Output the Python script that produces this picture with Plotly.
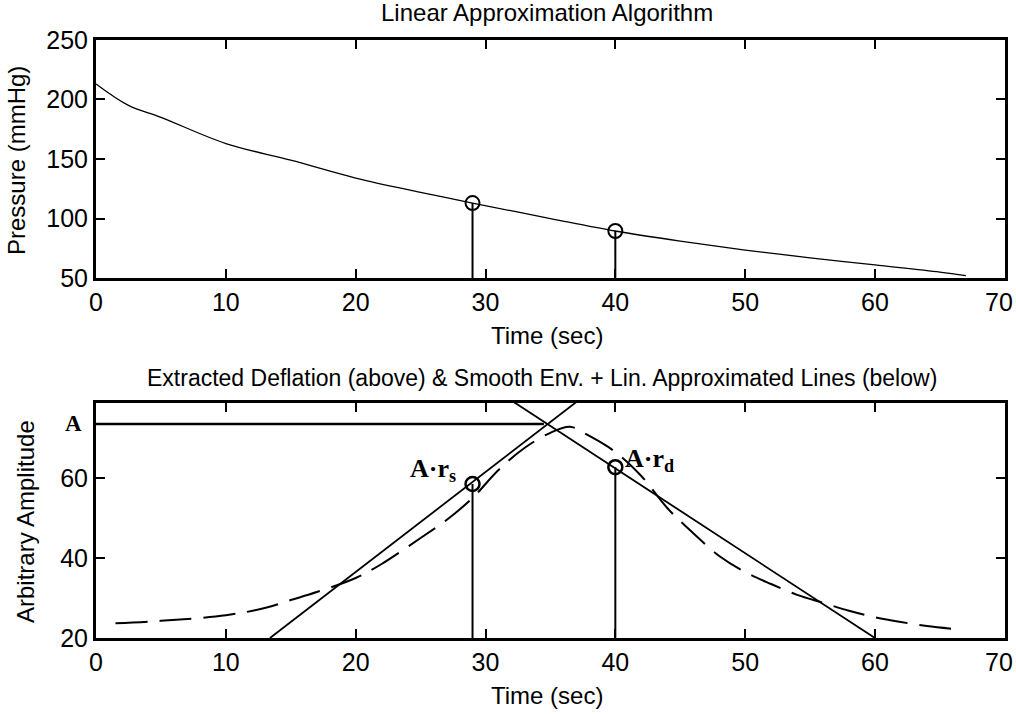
import plotly.graph_objects as go

# ---- data ----
time_p = [0, 2.5, 5, 10, 15, 20, 25, 29, 35, 40, 45, 50, 55, 60, 65, 67]
pressure = [213, 195, 185, 163, 149, 134, 122, 113, 100, 89.5, 81, 73.5, 67, 61, 55, 52]

t_marks = [29, 40]
p_marks = [113, 89.5]

time_env = [1.5, 5, 10, 13, 15, 17, 20, 22, 25, 27, 29, 31, 33, 35, 36.5, 38, 40, 42, 44, 46, 48, 50, 52, 54, 56, 58, 60, 62, 64, 66]
env = [23.7, 24.3, 25.7, 27.5, 29.5, 31.5, 35, 38.5, 45, 49.5, 55, 62, 67.5, 71.3, 72.8, 70.5, 66.5, 60.5, 52.5, 46.2, 40.5, 36.5, 33.5, 30.8, 28.8, 26.8, 25.2, 24, 23, 22.3]

rise_t = [13.4, 37.4]
rise_y = [20, 80]
fall_t = [31.7, 60]
fall_y = [80, 20]

A_val = 73.5
A_line_t = [0, 34.5]
amp_marks = [58.5, 62.7]

x_ticks = [0, 10, 20, 30, 40, 50, 60, 70]
x_ticktext = ["0", "10", "20", "30", "40", "50", "60", ""]   # "70" drawn as annotation so it stays inside the page

FONT = "Liberation Sans, Arial, sans-serif"
SERIF = "Liberation Serif, Times New Roman, serif"
BLACK = "black"

fig = go.Figure()

# top panel
fig.add_trace(go.Scatter(x=time_p, y=pressure, mode="lines", line=dict(color=BLACK, width=1.3, shape="spline"),
                         xaxis="x", yaxis="y", showlegend=False))
for t, p in zip(t_marks, p_marks):
    fig.add_trace(go.Scatter(x=[t, t], y=[50, p], mode="lines", line=dict(color=BLACK, width=2),
                             xaxis="x", yaxis="y", showlegend=False))
fig.add_trace(go.Scatter(x=t_marks, y=p_marks, mode="markers",
                         marker=dict(symbol="circle-open", size=14, color=BLACK, line=dict(width=2)),
                         xaxis="x", yaxis="y", showlegend=False))

# bottom panel
fig.add_trace(go.Scatter(x=time_env, y=env, mode="lines", line=dict(color=BLACK, width=2, dash="32px,12px", shape="spline"),
                         xaxis="x2", yaxis="y2", showlegend=False))
fig.add_trace(go.Scatter(x=rise_t, y=rise_y, mode="lines", line=dict(color=BLACK, width=1.8),
                         xaxis="x2", yaxis="y2", showlegend=False))
fig.add_trace(go.Scatter(x=fall_t, y=fall_y, mode="lines", line=dict(color=BLACK, width=1.8),
                         xaxis="x2", yaxis="y2", showlegend=False))
fig.add_trace(go.Scatter(x=A_line_t, y=[A_val, A_val], mode="lines", line=dict(color=BLACK, width=2.5),
                         xaxis="x2", yaxis="y2", showlegend=False))
for t, a in zip(t_marks, amp_marks):
    fig.add_trace(go.Scatter(x=[t, t], y=[20, a], mode="lines", line=dict(color=BLACK, width=2),
                             xaxis="x2", yaxis="y2", showlegend=False))
fig.add_trace(go.Scatter(x=t_marks, y=amp_marks, mode="markers",
                         marker=dict(symbol="circle-open", size=14, color=BLACK, line=dict(width=2.5)),
                         xaxis="x2", yaxis="y2", showlegend=False))

axis_common = dict(showline=True, linecolor=BLACK, linewidth=3, mirror="ticks", ticks="inside",
                   ticklen=9, tickwidth=2, tickcolor=BLACK, showgrid=False, zeroline=False,
                   automargin=False,
                   tickfont=dict(family=FONT, size=25, color=BLACK))

fig.update_layout(
    template="none",
    width=1016, height=714,
    margin=dict(l=0, r=0, t=0, b=0),
    paper_bgcolor="white", plot_bgcolor="white",
    xaxis=dict(domain=[0.0945, 0.989], range=[0, 70], tickvals=x_ticks, ticktext=x_ticktext,
               anchor="y", **axis_common),
    yaxis=dict(domain=[0.6106, 0.944], range=[50, 250], tickvals=[50, 100, 150, 200, 250],
               anchor="x", **axis_common),
    xaxis2=dict(domain=[0.0945, 0.989], range=[0, 70], tickvals=x_ticks, ticktext=x_ticktext,
                anchor="y2", **axis_common),
    yaxis2=dict(domain=[0.1064, 0.4356], range=[20, 78.75], tickvals=[20, 40, 60],
                anchor="x2", **axis_common),
)

H = 714.0
W = 1016.0


def txt(x, y, s, size=24, family=FONT, angle=0, xanchor="center"):
    fig.add_annotation(x=x, y=y, xref="paper", yref="paper", text=s, showarrow=False,
                       font=dict(family=family, size=size, color=BLACK), textangle=angle,
                       xanchor=xanchor, yanchor="middle")


txt(547 / W, 1 - 12 / H, "Linear Approximation Algorithm")
txt(547 / W, 1 - 335 / H, "Time (sec)")
txt(17 / W, 1 - 161 / H, "Pressure (mmHg)", angle=-90)
txt(542 / W, 1 - 378 / H, "Extracted Deflation (above) &amp; Smooth Env. + Lin. Approximated Lines (below)", size=23)
txt(547 / W, 1 - 695 / H, "Time (sec)")
txt(25 / W, 1 - 522 / H, "Arbitrary Amplitude", angle=-90)
# last x tick label of both panels, kept inside the page
txt(1015 / W, 1 - 302 / H, "70", size=25, xanchor="right")
txt(1015 / W, 1 - 662 / H, "70", size=25, xanchor="right")

# in-plot labels
fig.add_annotation(x=84 / W, y=A_val, xref="paper", yref="y2", text="<b>A</b>", showarrow=False,
                   font=dict(family=SERIF, size=23, color=BLACK), xanchor="right", yanchor="middle")
fig.add_annotation(x=27.9, y=62, xref="x2", yref="y2", text="<b>A·r<sub>s</sub></b>", showarrow=False,
                   font=dict(family=SERIF, size=26, color=BLACK), xanchor="right", yanchor="middle")
fig.add_annotation(x=40.6, y=64.5, xref="x2", yref="y2", text="<b>A·r<sub>d</sub></b>", showarrow=False,
                   font=dict(family=SERIF, size=26, color=BLACK), xanchor="left", yanchor="middle")

fig.write_html("out.html")
